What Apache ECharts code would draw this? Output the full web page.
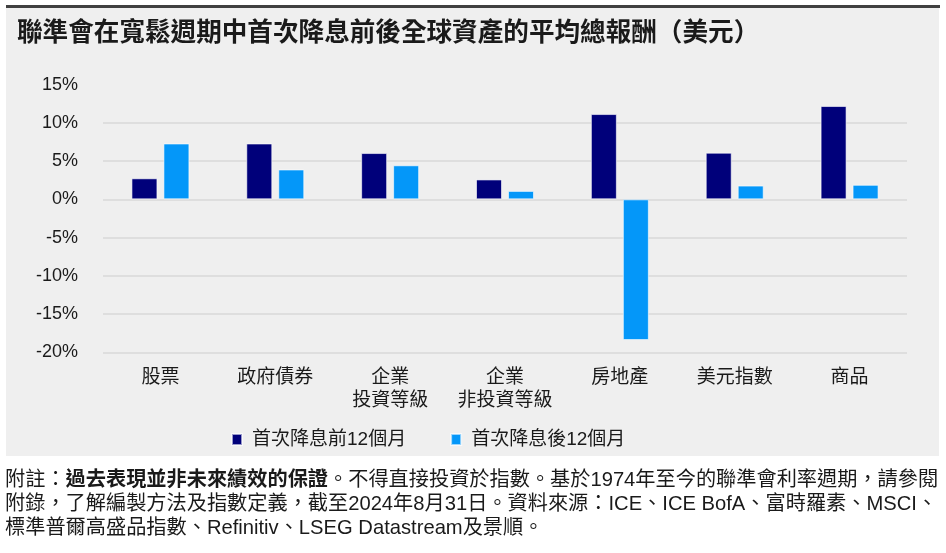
<!DOCTYPE html>
<html>
<head>
<meta charset="utf-8">
<script src="https://cdn.jsdelivr.net/npm/echarts@6/dist/echarts.min.js"></script>
<style>
html,body{margin:0;padding:0;background:#fff;}
#chart{width:946px;height:553px;}
</style>
</head>
<body>
<div id="chart"></div>
<script>
const titleText = '聯準會在寬鬆週期中首次降息前後全球資產的平均總報酬（美元）';
const categories = ['股票', '政府債券', '企業\n投資等級', '企業\n非投資等級', '房地產', '美元指數', '商品'];
const seriesNames = ['首次降息前12個月', '首次降息後12個月'];
const before12m = [2.75, 7.3, 6.05, 2.6, 11.15, 6.1, 12.2];
const after12m = [7.3, 3.9, 4.45, 1.1, -18.4, 1.8, 1.9];
const yTicks = { min: -20, max: 15, interval: 5 };
const footLine1 = ['附註：', '過去表現並非未來績效的保證', '。不得直接投資於指數。基於1974年至今的聯準會利率週期，請參閱'];
const footLine2 = '附錄，了解編製方法及指數定義，截至2024年8月31日。資料來源：ICE、ICE BofA、富時羅素、MSCI、';
const footLine3 = '標準普爾高盛品指數、Refinitiv、LSEG Datastream及景順。';

const FONT = "'Liberation Sans', 'Noto Sans CJK TC', sans-serif";
const chart = echarts.init(document.getElementById('chart'), null, { renderer: 'canvas' });

chart.setOption({
  backgroundColor: '#ffffff',
  animation: false,
  textStyle: { fontFamily: FONT },
  graphic: [
    { type: 'rect', z: -10, shape: { x: 6, y: 8, width: 933, height: 448 }, style: { fill: '#efefef' } },
    { type: 'rect', z: -10, shape: { x: 6, y: 5, width: 934, height: 3 }, style: { fill: '#404040' } },
    {
      type: 'text', left: 5, top: 470, z: 10,
      style: {
        text: '{n|' + footLine1[0] + '}{b|' + footLine1[1] + '}{n|' + footLine1[2] + '}\n{n|' + footLine2 + '}\n{n|' + footLine3 + '}',
        fontFamily: FONT,
        rich: {
          n: { fontSize: 20.2, lineHeight: 24, fontFamily: FONT, fill: '#1a1a1a', fontWeight: 'normal' },
          b: { fontSize: 20.2, lineHeight: 24, fontFamily: FONT, fill: '#1a1a1a', fontWeight: 'bold' }
        }
      }
    }
  ],
  title: {
    text: titleText,
    left: 12, top: 16,
    textStyle: { fontSize: 25.6, fontWeight: 'bold', color: '#1a1a1a', fontFamily: FONT }
  },
  legend: {
    data: seriesNames,
    left: 226, top: 425,
    icon: 'rect',
    itemWidth: 10, itemHeight: 11,
    itemGap: 44,
    textStyle: { fontSize: 19, color: '#1a1a1a', fontFamily: FONT, padding: [0, 0, 0, 5] }
  },
  grid: { left: 103, right: 39, top: 84.6, bottom: 200.7, containLabel: false },
  xAxis: {
    type: 'category',
    data: categories,
    axisLine: { show: false },
    axisTick: { show: false },
    axisLabel: { fontSize: 19, color: '#1a1a1a', margin: 14, lineHeight: 23, fontFamily: FONT, interval: 0 }
  },
  yAxis: {
    type: 'value',
    min: yTicks.min, max: yTicks.max, interval: yTicks.interval,
    axisLine: { show: false },
    axisTick: { show: false },
    axisLabel: { formatter: '{value}%', fontSize: 18, color: '#1a1a1a', margin: 25, fontFamily: FONT },
    splitLine: { show: true, showMaxLine: false, lineStyle: { color: '#d8d8d8', width: 1.5 } }
  },
  series: [
    {
      name: seriesNames[0], type: 'bar', data: before12m,
      barWidth: 26, barGap: '23%',
      itemStyle: { color: '#00007a', borderColor: 'rgba(255,255,255,0.6)', borderWidth: 1 }
    },
    {
      name: seriesNames[1], type: 'bar', data: after12m,
      barWidth: 26, barGap: '23%',
      itemStyle: { color: '#0497f9', borderColor: 'rgba(255,255,255,0.6)', borderWidth: 1 }
    }
  ]
});
</script>
</body>
</html>
